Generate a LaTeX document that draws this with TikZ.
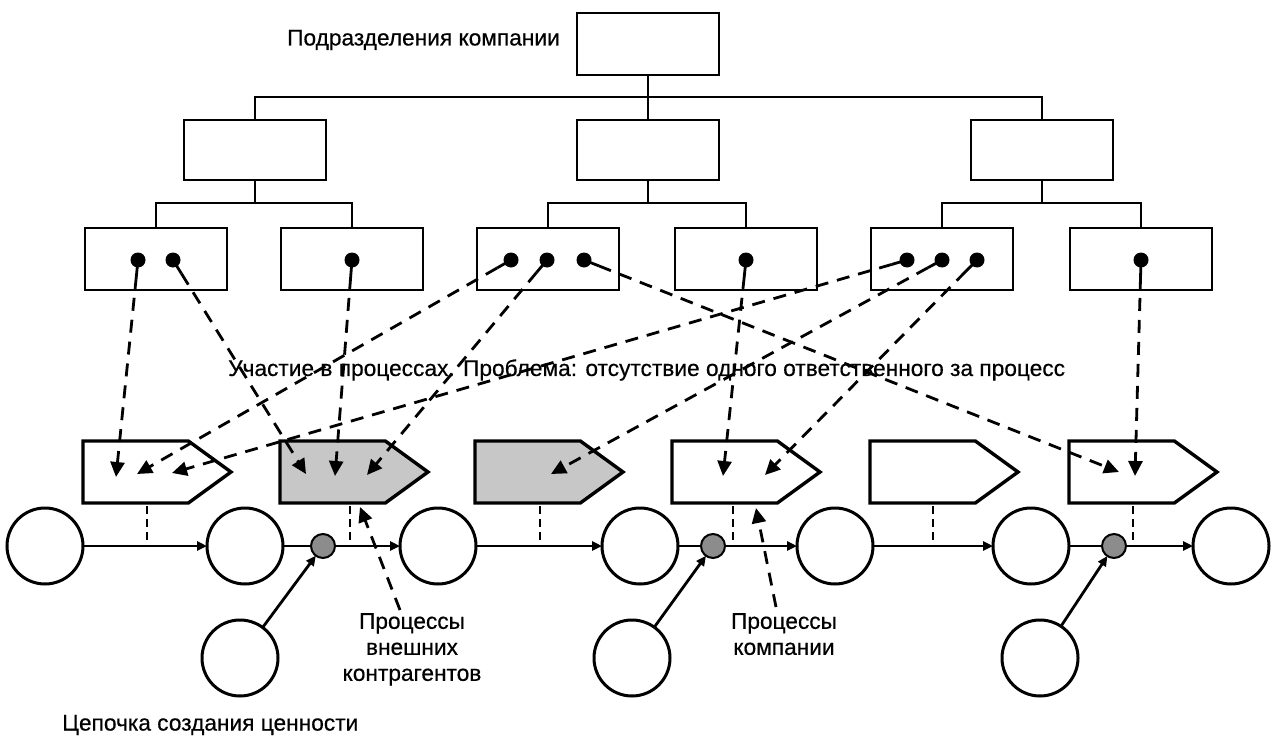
\documentclass[tikz,border=0pt]{standalone}
\usepackage{fontspec}
\setmainfont{Liberation Sans}
\newfontfamily\labelfont{Liberation Sans}[FakeBold=0.5]
\usetikzlibrary{arrows.meta,shapes.symbols,calc}

\begin{document}
\begin{tikzpicture}[x=1pt,y=-1pt,
  orgbox/.style={draw,line width=2pt,minimum width=142pt,minimum height=62pt,inner sep=0pt,outer sep=0pt},
  unitbox/.style={draw,line width=2.8pt,minimum width=142pt,minimum height=62pt,inner sep=0pt,outer sep=0pt},
  procshape/.style={signal,signal to=east,signal from=nowhere,signal pointer angle=72,
    draw,line width=3.4pt,minimum width=148pt,minimum height=62pt,inner sep=0pt,outer sep=0pt,fill=white},
  extproc/.style={procshape,fill=black!22},
  stage/.style={circle,draw,line width=3pt,minimum size=76pt,inner sep=0pt,outer sep=0pt},
  joint/.style={circle,draw,line width=2pt,fill=black!45,minimum size=24pt,inner sep=0pt,outer sep=0pt},
  flow/.style={line width=2.8pt,-{Triangle[length=10pt,width=9pt]}},
  tree/.style={line width=2pt},
  roledash/.style={line width=2.8pt,dash pattern=on 13pt off 9pt,-{Triangle[length=15pt,width=14pt]}},
  linkdash/.style={line width=2.8pt,dash pattern=on 8pt off 5pt},
  lbl/.style={font=\labelfont\fontsize{22.7}{26}\selectfont,inner sep=0pt}
]
\useasboundingbox (0,0) rectangle (1279,741);
\fill[white] (0,0) rectangle (1279,741);

% ---------- organisation chart ----------
\node[orgbox] (top) at (648,44) {};
\node[lbl,anchor=east] (toplbl) at (560,40) {Подразделения компании};

\node[orgbox,minimum height=60pt] (d1) at (255,150) {};
\node[orgbox,minimum height=60pt] (d2) at (648,150) {};
\node[orgbox,minimum height=60pt] (d3) at (1042,150) {};

\coordinate (bus1) at (0,97);
\coordinate (bus2) at (0,203);
\draw[tree] (top.south) -- (top.south |- bus1);
\draw[tree] (d1.north) -- (d1.north |- bus1) -- (d3.north |- bus1) -- (d3.north);
\draw[tree] (d2.north) -- (d2.north |- bus1);

\node[unitbox] (u1) at (156,259) {};
\node[unitbox] (u2) at (352,259) {};
\node[unitbox] (u3) at (548,259) {};
\node[unitbox] (u4) at (746,259) {};
\node[unitbox] (u5) at (942,259) {};
\node[unitbox] (u6) at (1141,259) {};

\foreach \p/\a/\b in {d1/u1/u2,d2/u3/u4,d3/u5/u6}{
  \draw[tree] (\p.south) -- (\p.south |- bus2);
  \draw[tree] (\a.north) -- (\a.north |- bus2) -- (\b.north |- bus2) -- (\b.north);
}

% ---------- value chain ----------
\node[stage] (c1) at (45,546) {};
\node[stage] (c2) at (245,546) {};
\node[stage] (c3) at (438,546) {};
\node[stage] (c4) at (640,546) {};
\node[stage] (c5) at (835,546) {};
\node[stage] (c6) at (1031,546) {};
\node[stage] (c7) at (1231,546) {};
\node[joint] (j1) at (323,546) {};
\node[joint] (j2) at (713,546) {};
\node[joint] (j3) at (1114,546) {};
\node[stage] (e1) at (240,658) {};
\node[stage] (e2) at (632,658) {};
\node[stage] (e3) at (1040,658) {};

\draw[flow] (c1) -- (c2);
\draw[line width=2.8pt] (c2) -- (j1);
\draw[flow] (j1) -- (c3);
\draw[flow] (c3) -- (c4);
\draw[line width=2.8pt] (c4) -- (j2);
\draw[flow] (j2) -- (c5);
\draw[flow] (c5) -- (c6);
\draw[line width=2.8pt] (c6) -- (j3);
\draw[flow] (j3) -- (c7);
\draw[flow] (e1) -- (j1);
\draw[flow] (e2) -- (j2);
\draw[flow] (e3) -- (j3);

% ---------- processes ----------
\node[procshape,anchor=west] (p1) at (83,472) {};
\node[extproc,anchor=west]  (p2) at (280,472) {};
\node[extproc,anchor=west]  (p3) at (475,472) {};
\node[procshape,anchor=west] (p4) at (672,472) {};
\node[procshape,anchor=west] (p5) at (870,472) {};
\node[procshape,anchor=west] (p6) at (1069,472) {};

\foreach \p/\dx in {p1/64,p2/70,p3/65,p4/61,p5/63,p6/64}{
  \draw[linkdash] ($(\p.west)+(\dx,34)$) -- ($(\p.west)+(\dx,70)$);
}

% ---------- participation of units in processes ----------
\coordinate (s11) at (138,260);  \coordinate (s12) at (173,260);
\coordinate (s21) at (352,260);
\coordinate (s31) at (511,260);  \coordinate (s32) at (547,260);  \coordinate (s33) at (584,260);
\coordinate (s41) at (746,260);
\coordinate (s51) at (907,260);  \coordinate (s52) at (942,260);  \coordinate (s53) at (977,260);
\coordinate (s61) at (1141,260);

\coordinate (t11) at (116,477);  \coordinate (t12) at (137,474);  \coordinate (t13) at (172,473);
\coordinate (t21) at (306,474);  \coordinate (t22) at (335,476);  \coordinate (t23) at (367,475);
\coordinate (t31) at (551,474);
\coordinate (t41) at (723,476);  \coordinate (t42) at (765,475);
\coordinate (t61) at (1119,472); \coordinate (t62) at (1135,476);

\newcommand\rolelink[2]{%
  \fill (#1) circle (7.5pt);
  \draw[line width=2.8pt] (#1) -- ($(#1)!16pt!(#2)$);
  \draw[roledash] ($(#1)!16pt!(#2)$) -- (#2);
}
\rolelink{s11}{t11}
\rolelink{s12}{t21}
\rolelink{s21}{t22}
\rolelink{s31}{t12}
\rolelink{s32}{t23}
\rolelink{s33}{t61}
\rolelink{s41}{t41}
\rolelink{s51}{t13}
\rolelink{s52}{t31}
\rolelink{s53}{t42}
\rolelink{s61}{t62}

\node[lbl,anchor=west] (issue) at (228,370) {Участие в процессах. Проблема: отсутствие одного ответственного за процесс};

% ---------- bottom labels ----------
\node[lbl,anchor=north,align=center] (extlbl) at (412,613) {Процессы\\внешних\\контрагентов};
\node[lbl,anchor=north,align=center] (ownlbl) at (784,613) {Процессы\\компании};
\node[lbl,anchor=west] (chainlbl) at (62,725) {Цепочка создания ценности};

\coordinate (ext) at (400,610);
\coordinate (own) at (776,607);
\coordinate (exttip) at (360,507);
\coordinate (owntip) at (756,508);
\draw[roledash] (ext) -- (exttip);
\draw[roledash] (own) -- (owntip);
\end{tikzpicture}
\end{document}
